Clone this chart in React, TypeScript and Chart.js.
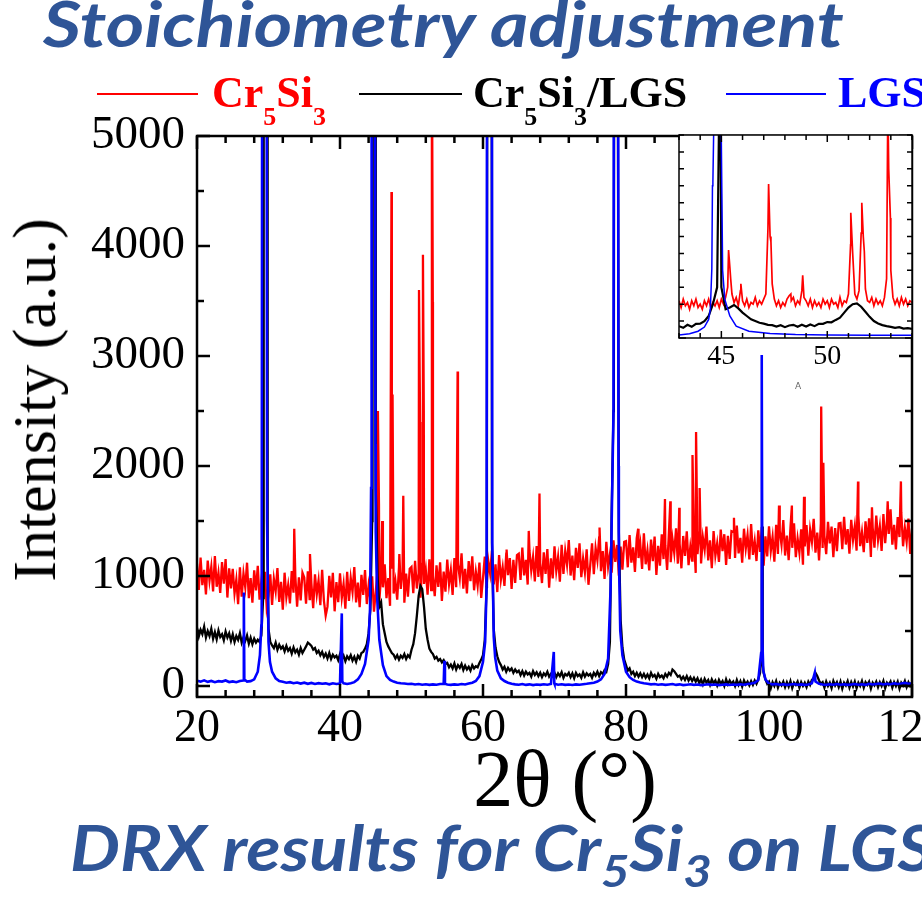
import React, { useEffect, useRef } from "react";
import { Chart, registerables } from "chart.js";

Chart.register(...registerables);

// ---------------- DATA (main pattern) ----------------
// Background points on a regular 2θ grid: 20.00, 20.25, ... 120.00
const GRID_START = 20;
const GRID_STEP = 0.25;

const redBase = [
  1112, 874, 1168, 916, 1056, 832, 1140, 958, 1084, 860, 1182, 902, 1028, 846, 1126, 930, 1154, 804, 1070, 888,
  1065, 841, 967, 743, 1079, 813, 1023, 897, 1121, 799, 981, 757, 1051, 869, 1093, 785, 953, 827, 1037, 715,
  820, 1016, 736, 974, 862, 1072, 764, 946, 694, 1030, 806, 918, 750, 1044, 848, 1002, 722, 988, 778, 1030,
  987, 749, 1043, 791, 931, 707, 1015, 833, 959, 735, 1057, 777, 640, 721, 1001, 805, 1029, 679, 945, 763,
  1025, 801, 927, 703, 1039, 773, 983, 857, 1081, 759, 941, 717, 1011, 829, 1053, 745, 913, 787, 997, 675,
  855, 1051, 771, 1009, 897, 1107, 799, 981, 729, 1065, 841, 953, 785, 1079, 883, 1037, 757, 1023, 813, 1065,
  1082, 844, 1138, 886, 1026, 802, 1110, 928, 1054, 830, 1152, 872, 998, 816, 1096, 900, 1124, 774, 1040, 858,
  1150, 926, 1052, 828, 1164, 898, 1108, 982, 1206, 884, 1066, 842, 1136, 954, 1178, 870, 1038, 912, 1122, 800,
  980, 1176, 896, 1134, 1022, 1232, 924, 1106, 854, 1190, 966, 1078, 910, 1204, 1008, 1162, 882, 1148, 938, 1190,
  1202, 964, 1258, 1006, 1146, 922, 1230, 1048, 1174, 950, 1272, 992, 1118, 936, 1216, 1020, 1244, 894, 1160, 978,
  1270, 1046, 1172, 948, 1284, 1018, 1228, 1102, 1326, 1004, 1186, 962, 1256, 1074, 1298, 990, 1158, 1032, 1242, 920,
  1100, 1296, 1016, 1254, 1142, 1352, 1044, 1226, 974, 1310, 1086, 1198, 1030, 1324, 1128, 1282, 1002, 1268, 1058, 1310,
  1317, 1079, 1373, 1121, 1261, 1037, 1345, 1163, 1289, 1065, 1387, 1107, 1233, 1051, 1331, 1135, 1359, 1009, 1275, 1093,
  1378, 1154, 1280, 1056, 1392, 1126, 1336, 1210, 1434, 1112, 1294, 1070, 1364, 1182, 1406, 1098, 1266, 1140, 1350, 1028,
  1198, 1394, 1114, 1352, 1240, 1450, 1142, 1324, 1072, 1408, 1184, 1296, 1128, 1422, 1226, 1380, 1100, 1366, 1156, 1408,
  1402, 1164, 1458, 1206, 1346, 1122, 1430, 1248, 1374, 1150, 1472, 1192, 1318, 1136, 1416, 1220, 1444, 1094, 1360, 1178,
  1452, 1228, 1354, 1130, 1466, 1200, 1410, 1284, 1508, 1186, 1368, 1144, 1438, 1256, 1480, 1172, 1340, 1214, 1424, 1102,
  1268, 1464, 1184, 1422, 1310, 1520, 1212, 1394, 1142, 1478, 1254, 1366, 1198, 1492, 1296, 1450, 1170, 1436, 1226, 1478,
  1482, 1244, 1538, 1286, 1426, 1202, 1510, 1328, 1454, 1230, 1552, 1272, 1398, 1216, 1496, 1300, 1524, 1174, 1440, 1258,
  1550, 1326, 1452, 1228, 1564, 1298, 1508, 1382, 1606, 1284, 1466, 1242, 1536, 1354, 1578, 1270, 1438, 1312, 1522, 1200,
  1430,
];

const blackBase = [
  530, 450, 510, 470, 540, 440, 500, 455, 520, 430,
  490, 425, 505, 445, 470, 415, 495, 440, 480, 410,
  470, 400, 455, 420, 480, 395, 445, 410, 460, 385,
  440, 380, 430, 395, 420, 400, 460, 800, 9000, 9000,
  520, 400, 370, 345, 395, 330, 375, 340, 360, 315,
  365, 320, 345, 295, 350, 305, 330, 285, 345, 300,
  330, 360, 395, 380, 365, 330, 345, 300, 320, 280,
  310, 265, 295, 250, 300, 245, 285, 260, 275, 235,
  290, 240, 275, 225, 270, 245, 280, 230, 265, 220,
  275, 250, 300, 310, 340, 380, 480, 700, 1500, 9000,
  1800, 1000, 720, 760, 560, 480, 400, 360, 330, 300,
  285, 250, 280, 240, 275, 255, 290, 245, 280, 260,
  330, 380, 480, 640, 820, 910, 880, 720, 520, 420,
  340, 310, 290, 250, 265, 230, 245, 215, 235, 200,
  210, 170, 195, 160, 205, 150, 190, 165, 200, 145,
  185, 150, 175, 140, 190, 160, 180, 170, 210, 240,
  280, 420, 900, 9000, 9000, 1300, 520, 350, 270, 220,
  190, 150, 175, 130, 165, 140, 160, 120, 150, 125,
  140, 100, 135, 95, 130, 105, 120, 85, 135, 100,
  125, 90, 120, 80, 115, 95, 130, 85, 110, 90,
  120, 80, 115, 90, 125, 75, 110, 95, 120, 80,
  115, 70, 120, 90, 105, 75, 125, 85, 115, 95,
  110, 75, 120, 95, 130, 90, 125, 110, 145, 130,
  200, 400, 1600, 2500, 9000, 9000, 1400, 600, 350, 240,
  190, 140, 160, 110, 130, 90, 120, 85, 115, 80,
  110, 75, 105, 70, 120, 85, 100, 65, 110, 80,
  95, 70, 110, 85, 120, 100, 150, 135, 110, 85,
  95, 60, 85, 55, 90, 50, 80, 45, 75, 40,
  70, 25, 60, 15, 65, 30, 55, 10, 60, 25,
  50, 5, 55, 20, 45, 0, 60, 15, 50, 20,
  40, 0, 55, 10, 45, -5, 50, 15, 40, 5,
  45, 10, 50, 20, 60, 120, 900, 120, 60, 20,
  40, -20, 35, 0, 45, -15, 30, 5, 40, -10,
  35, -5, 45, -20, 30, 10, 40, -15, 35, 0,
  30, -10, 40, 10, 55, 70, 120, 90, 50, 20,
  35, -15, 40, 0, 30, -20, 45, 5, 35, -10,
  40, -25, 30, 5, 45, -15, 35, -5, 40, -20,
  30, 0, 45, -15, 35, 10, 40, -25, 30, 5,
  40, -10, 35, 0, 45, -20, 30, 10, 40, -15,
  35, 0, 40, -25, 30, 5, 45, -10, 35, 0,
  20,
];

// Blue (LGS substrate) background on a coarser 0.5° grid
const BLUE_STEP = 0.5;
const blueBase = [
  48, 40, 52, 38, 46, 35, 44, 40, 50, 36,
  42, 34, 45, 50, 40, 44, 60, 130, 550, 9000,
  400, 130, 70, 45, 38, 30, 35, 25, 32, 22,
  30, 20, 28, 18, 26, 20, 24, 15, 25, 18,
  22, 25, 18, 26, 35, 60, 110, 200, 420, 9000,
  1400, 420, 190, 90, 55, 40, 30, 25, 22, 18,
  20, 14, 18, 12, 16, 10, 15, 12, 18, 20,
  14, 10, 15, 12, 18, 14, 22, 30, 45, 90,
  220, 900, 9000, 450, 140, 70, 45, 30, 20, 15,
  12, 18, 10, 15, 8, 14, 10, 16, 12, 18,
  20, 12, 16, 10, 14, 9, 15, 12, 16, 20,
  25, 30, 40, 60, 110, 250, 1500, 9000, 1200, 280,
  130, 80, 55, 40, 32, 25, 20, 15, 18, 12,
  16, 10, 14, 18, 10, 15, 8, 12, 16, 10,
  14, 8, 12, 16, 10, 14, 8, 12, 15, 9,
  13, 10, 16, 12, 18, 22, 30, 55, 2950, 60,
  20, 15, 18, 12, 16, 10, 14, 18, 12, 15,
  10, 14, 25, 40, 20, 14, 10, 16, 12, 18,
  12, 16, 10, 14, 18, 12, 16, 10, 20, 14,
  18, 22, 14, 20, 16, 24, 18, 22, 28, 20,
  25,
];

// Diffraction peaks [2θ, intensity]
const redPeaks: [number, number][] = [
  [33.6, 1430], [35.8, 1200], [45.3, 2500], [45.45, 1650], [45.9, 1500],
  [47.2, 4490], [47.35, 2650], [48.3, 1200], [48.85, 1730], [51.05, 3600],
  [51.2, 2400], [51.6, 3920], [51.72, 2500], [52.85, 6000], [52.98, 3490],
  [56.45, 2860], [63.3, 1240], [66.4, 1410], [67.9, 1750], [76.3, 1440],
  [81.7, 1430], [85.45, 1700], [86.2, 1680], [87.45, 1620], [89.3, 2100],
  [89.8, 2310], [90.3, 1800], [95.1, 1530], [101.4, 1640], [103.2, 1640],
  [104.9, 1720], [107.3, 2540], [107.6, 2030], [112.45, 1860], [114.4, 1625],
  [116.6, 1680], [118.45, 1860],
];

const blackPeaks: [number, number][] = [
  [29.3, 3000], [29.35, 9000], [29.82, 9000], [29.88, 1200],
  [44.55, 2500], [44.62, 9000], [44.98, 9000],
  [60.55, 2000], [60.62, 9000], [61.2, 9000],
  [78.3, 2600], [78.38, 9000], [78.88, 9000], [78.98, 2000],
  [98.95, 300], [99.03, 1450], [99.12, 200],
];

const bluePeaks: [number, number][] = [
  [26.55, 850], [26.62, 60],
  [28.8, 280], [29.05, 900], [29.15, 9000], [29.7, 9000], [29.8, 1500], [30.2, 220],
  [40.25, 660], [40.32, 40],
  [44.2, 700], [44.35, 1800], [44.42, 9000], [44.85, 9000], [44.95, 2200], [45.2, 800],
  [54.6, 230], [54.68, 20],
  [60.3, 400], [60.6, 9000], [61.2, 9000], [61.3, 1300], [61.7, 260],
  [69.9, 310], [69.97, 25],
  [77.85, 900], [78.25, 2500], [78.35, 9000], [78.85, 9000], [78.95, 2000], [79.2, 500],
  [98.9, 300], [98.97, 3010], [99.08, 400], [99.2, 140],
  [106.4, 120],
];

const xTickValues = [20, 40, 60, 80, 100, 120];
const yTickValues = [0, 1000, 2000, 3000, 4000, 5000];

// ---------------- DATA (inset, zoom 43°–54°) ----------------
const INSET_START = 43;
const INSET_RED_STEP = 0.1;
const INSET_BLACK_STEP = 0.2;

const insetRedBase = [
  2.2, 1.8, 2.3, 1.9, 2.1, 1.7, 2.2, 1.9, 2.3, 1.8,
  2.0, 1.7, 2.2, 1.9, 2.3, 1.8, 2.1, 1.9, 2.2, 1.8,
  2.3, 2.0, 2.4, 3.0, 4.2, 2.6, 2.1, 2.4, 1.9, 2.8,
  2.2, 1.9, 2.3, 1.8, 2.1, 2.0, 2.4, 1.9, 2.2, 2.0,
  2.3, 2.6, 6.5, 6.0, 3.2, 2.3, 1.9, 2.2, 1.8, 2.1,
  1.9, 2.3, 2.5, 2.2, 2.4, 1.9, 2.2, 2.0, 2.8, 2.4,
  2.2, 1.9, 2.3, 1.8, 2.2, 1.9, 2.1, 1.8, 2.3, 2.0,
  2.2, 1.8, 2.3, 2.0, 2.1, 1.8, 2.4, 1.9, 2.2, 2.1,
  2.6, 5.5, 5.0, 2.6, 2.3, 2.8, 6.2, 6.0, 2.9, 2.2,
  2.1, 2.4, 1.9, 2.3, 2.0, 2.2, 1.9, 2.4, 3.5, 10.0,
  4.0, 2.4, 2.0, 2.3, 1.9, 2.4, 2.0, 2.3, 1.9, 2.2,
  2.1,
];

const insetBlackBase = [
  0.7, 0.6, 0.78, 0.66, 0.84, 0.85, 1.0, 1.3, 2.0, 3.0,
  3.0, 1.7, 1.8, 1.95, 1.75, 1.5, 1.3, 1.1, 1.0, 0.9,
  0.85, 0.78, 0.76, 0.68, 0.76, 0.64, 0.74, 0.78, 0.66, 0.78,
  0.68, 0.8, 0.7, 0.84, 0.84, 0.94, 0.93, 1.07, 1.2, 1.5,
  1.8, 2.0, 2.05, 1.85, 1.55, 1.25, 1.0, 0.86, 0.76, 0.7,
  0.66, 0.6, 0.64, 0.56, 0.58, 0.54,
];

const insetRedPeaks: [number, number][] = [
  [45.34, 5.2], [45.44, 3.5], [45.92, 3.2], [47.23, 9.1], [47.34, 5.7],
  [48.28, 2.6], [48.84, 3.7], [51.11, 7.4], [51.63, 8.0], [51.75, 5.1],
  [52.86, 14], [52.98, 7.1],
];

const insetBlackPeaks: [number, number][] = [[44.9, 14], [44.96, 14]];

const insetBlue: [number, number][] = [
  [43.0, 0.18], [43.5, 0.25], [43.9, 0.4], [44.2, 0.65], [44.4, 1.1], [44.48, 1.7],
  [44.55, 4.1], [44.58, 9.0], [44.6, 9.2], [44.66, 14], [44.98, 14], [45.06, 4.0],
  [45.16, 2.3], [45.4, 1.3], [45.7, 0.7], [46.3, 0.4], [47.3, 0.26], [48.5, 0.2],
  [50.0, 0.18], [52.0, 0.16], [54.0, 0.16],
];

const insetXTickValues = [45, 50];

// ---------------- helpers ----------------
type Pt = { x: number; y: number };

function buildSeries(base: number[], start: number, step: number, peaks: [number, number][]): Pt[] {
  const pts: Pt[] = base.map((y, i) => ({ x: +(start + i * step).toFixed(3), y }));
  peaks.forEach(([x, y]) => pts.push({ x, y }));
  pts.sort((a, b) => a.x - b.x);
  return pts;
}

const RED = "#ff0000";
const BLACK = "#000000";
const BLUE = "#0000ff";
const TITLE_BLUE = "#2f5597";
const SERIF = "'Liberation Serif', 'Times New Roman', serif";

type FrameOpts = {
  xMin: number; xMax: number; xStep: number; xMajor: number;
  yMin: number; yMax: number; yStep: number; yMajor: number;
  majorLen: number; minorLen: number; lineWidth: number; fill?: boolean;
};

function framePlugin(o: FrameOpts) {
  const isMajor = (v: number, m: number) => Math.abs(v / m - Math.round(v / m)) < 1e-6;
  return {
    id: "frameTicks",
    beforeDatasetsDraw(chart: any) {
      if (!o.fill) return;
      const a = chart.chartArea;
      const ctx = chart.ctx;
      ctx.save();
      ctx.fillStyle = "#ffffff";
      ctx.fillRect(a.left, a.top, a.right - a.left, a.bottom - a.top);
      ctx.restore();
    },
    afterDatasetsDraw(chart: any) {
      const ctx = chart.ctx;
      const a = chart.chartArea;
      const xs = chart.scales.x;
      const ys = chart.scales.y;
      ctx.save();
      ctx.strokeStyle = "#000";
      ctx.lineWidth = o.lineWidth;
      ctx.beginPath();
      const nx = Math.round((o.xMax - o.xMin) / o.xStep);
      for (let i = 0; i <= nx; i++) {
        const v = o.xMin + i * o.xStep;
        const len = isMajor(v, o.xMajor) ? o.majorLen : o.minorLen;
        const px = xs.getPixelForValue(v);
        ctx.moveTo(px, a.bottom);
        ctx.lineTo(px, a.bottom - len);
        ctx.moveTo(px, a.top);
        ctx.lineTo(px, a.top + len);
      }
      const ny = Math.round((o.yMax - o.yMin) / o.yStep);
      for (let i = 0; i <= ny; i++) {
        const v = o.yMin + i * o.yStep;
        const len = isMajor(v, o.yMajor) ? o.majorLen : o.minorLen;
        const py = ys.getPixelForValue(v);
        ctx.moveTo(a.left, py);
        ctx.lineTo(a.left + len, py);
        ctx.moveTo(a.right, py);
        ctx.lineTo(a.right - len, py);
      }
      ctx.stroke();
      ctx.strokeRect(a.left, a.top, a.right - a.left, a.bottom - a.top);
      ctx.restore();
    },
  };
}

function lineDs(label: string, data: Pt[], color: string, width: number, order: number) {
  return {
    label,
    data,
    borderColor: color,
    backgroundColor: color,
    borderWidth: width,
    pointRadius: 0,
    fill: false,
    tension: 0,
    order,
  };
}

function Sub({ children, size, shift }: { children: any; size: number; shift: number }) {
  return (
    <span style={{ fontSize: size, position: "relative", top: shift, verticalAlign: "baseline" }}>{children}</span>
  );
}

export default function App() {
  const mainRef = useRef<HTMLCanvasElement | null>(null);
  const insetRef = useRef<HTMLCanvasElement | null>(null);

  useEffect(() => {
    const red = buildSeries(redBase, GRID_START, GRID_STEP, redPeaks);
    const black = buildSeries(blackBase, GRID_START, GRID_STEP, blackPeaks);
    const blue = buildSeries(blueBase, GRID_START, BLUE_STEP, bluePeaks);

    const main = new Chart(mainRef.current as HTMLCanvasElement, {
      type: "line",
      data: {
        datasets: [
          lineDs("LGS", blue, BLUE, 2.6, 1),
          lineDs("Cr5Si3/LGS", black, BLACK, 2.3, 2),
          lineDs("Cr5Si3", red, RED, 2.3, 3),
        ] as any,
      },
      options: {
        responsive: false,
        animation: false,
        parsing: false,
        layout: { padding: { left: 0, top: 136, right: 10, bottom: 0 } },
        plugins: { legend: { display: false }, tooltip: { enabled: false } },
        scales: {
          x: {
            type: "linear",
            min: 20,
            max: 120,
            grid: { display: false, drawTicks: false },
            border: { display: false },
            afterBuildTicks: (s: any) => {
              s.ticks = xTickValues.map((v) => ({ value: v }));
            },
            afterFit: (s: any) => {
              s.height = 204;
              s.paddingLeft = 0;
              s.paddingRight = 0;
            },
            ticks: {
              color: "#000",
              font: { family: SERIF, size: 46 },
              padding: 4,
              maxRotation: 0,
              autoSkip: false,
              callback: (v: any) => String(v),
            },
          },
          y: {
            type: "linear",
            min: -100,
            max: 5000,
            grid: { display: false, drawTicks: false },
            border: { display: false },
            afterBuildTicks: (s: any) => {
              s.ticks = yTickValues.map((v) => ({ value: v }));
            },
            afterFit: (s: any) => {
              s.width = 197;
              s.paddingTop = 0;
              s.paddingBottom = 0;
            },
            ticks: {
              color: "#000",
              font: { family: SERIF, size: 47 },
              padding: 12,
              autoSkip: false,
              callback: (v: any) => String(v),
            },
          },
        },
      } as any,
      plugins: [
        framePlugin({
          xMin: 20, xMax: 120, xStep: 4, xMajor: 20,
          yMin: 0, yMax: 5000, yStep: 500, yMajor: 1000,
          majorLen: 13, minorLen: 7, lineWidth: 2.5,
        }),
      ],
    });

    const iRed = buildSeries(insetRedBase, INSET_START, INSET_RED_STEP, insetRedPeaks);
    const iBlack = buildSeries(insetBlackBase, INSET_START, INSET_BLACK_STEP, insetBlackPeaks);
    const iBlue = insetBlue.map(([x, y]) => ({ x, y }));

    const inset = new Chart(insetRef.current as HTMLCanvasElement, {
      type: "line",
      data: {
        datasets: [
          lineDs("LGS", iBlue, BLUE, 1.5, 1),
          lineDs("Cr5Si3/LGS", iBlack, BLACK, 2.2, 2),
          lineDs("Cr5Si3", iRed, RED, 1.7, 3),
        ] as any,
      },
      options: {
        responsive: false,
        animation: false,
        parsing: false,
        layout: { padding: { left: 0, top: 10, right: 10, bottom: 0 } },
        plugins: { legend: { display: false }, tooltip: { enabled: false } },
        scales: {
          x: {
            type: "linear",
            min: 43,
            max: 54,
            grid: { display: false, drawTicks: false },
            border: { display: false },
            afterBuildTicks: (s: any) => {
              s.ticks = insetXTickValues.map((v) => ({ value: v }));
            },
            afterFit: (s: any) => {
              s.height = 37;
              s.paddingLeft = 0;
              s.paddingRight = 0;
            },
            ticks: {
              color: "#000",
              font: { family: SERIF, size: 28 },
              padding: 2,
              maxRotation: 0,
              autoSkip: false,
            },
          },
          y: {
            type: "linear",
            min: 0,
            max: 12,
            grid: { display: false, drawTicks: false },
            border: { display: false },
            ticks: { display: false },
            afterFit: (s: any) => {
              s.width = 24;
              s.paddingTop = 0;
              s.paddingBottom = 0;
            },
          },
        },
      } as any,
      plugins: [
        framePlugin({
          xMin: 43, xMax: 54, xStep: 1, xMajor: 5,
          yMin: 0, yMax: 12, yStep: 1, yMajor: 100,
          majorLen: 7, minorLen: 5, lineWidth: 1.5, fill: true,
        }),
      ],
    });

    return () => {
      main.destroy();
      inset.destroy();
    };
  }, []);

  const legendText = { position: "absolute" as const, top: 71, fontFamily: SERIF, fontWeight: 700, fontSize: 44, lineHeight: "44px", whiteSpace: "nowrap" as const };
  const legendLine = { position: "absolute" as const, top: 93, height: 2 };
  const titleStyle = {
    position: "absolute" as const,
    fontFamily: "Lato, 'Open Sans', sans-serif",
    fontWeight: 700,
    fontStyle: "italic",
    fontSize: 63,
    lineHeight: "63px",
    color: TITLE_BLUE,
    whiteSpace: "nowrap" as const,
    transformOrigin: "left center",
  };

  return (
    <div style={{ position: "absolute", left: 0, top: 0, width: 922, height: 901, overflow: "hidden", background: "#ffffff" }}>
      <canvas ref={mainRef} width={922} height={901} style={{ position: "absolute", left: 0, top: 0 }} />
      <canvas ref={insetRef} width={267} height={250} style={{ position: "absolute", left: 655, top: 125 }} />

      <div style={{ ...titleStyle, left: 43, top: -9, transform: "scaleX(1.17)" }}>Stoichiometry adjustment</div>

      <div style={{ ...legendLine, left: 97, width: 101, background: RED }} />
      <div style={{ ...legendText, left: 212, color: RED }}>
        Cr<Sub size={26} shift={18}>5</Sub>Si<Sub size={26} shift={18}>3</Sub>
      </div>
      <div style={{ ...legendLine, left: 359, width: 103, background: BLACK }} />
      <div style={{ ...legendText, left: 473, color: BLACK }}>
        Cr<Sub size={26} shift={18}>5</Sub>Si<Sub size={26} shift={18}>3</Sub>/LGS
      </div>
      <div style={{ ...legendLine, left: 726, width: 100, background: BLUE }} />
      <div style={{ ...legendText, left: 838, color: BLUE }}>LGS</div>

      <div
        style={{
          position: "absolute",
          left: 34,
          top: 400,
          transform: "translate(-50%, -50%) rotate(-90deg)",
          fontFamily: SERIF,
          fontSize: 62,
          lineHeight: "62px",
          whiteSpace: "nowrap",
          color: "#000",
        }}
      >
        Intensity (a.u.)
      </div>

      <div
        style={{
          position: "absolute",
          left: 565,
          top: 779,
          transform: "translate(-50%, -50%)",
          fontFamily: SERIF,
          fontSize: 80,
          lineHeight: "80px",
          whiteSpace: "nowrap",
          color: "#000",
        }}
      >
        2θ (°)
      </div>

      <div style={{ position: "absolute", left: 795, top: 381, fontFamily: "DejaVu Sans, sans-serif", fontSize: 9, color: "#666" }}>A</div>

      <div style={{ ...titleStyle, left: 70, top: 815, transform: "scaleX(1.12)" }}>
        DRX results for Cr<Sub size={44} shift={16}>5</Sub>Si<Sub size={44} shift={16}>3</Sub> on LGS
      </div>
    </div>
  );
}
